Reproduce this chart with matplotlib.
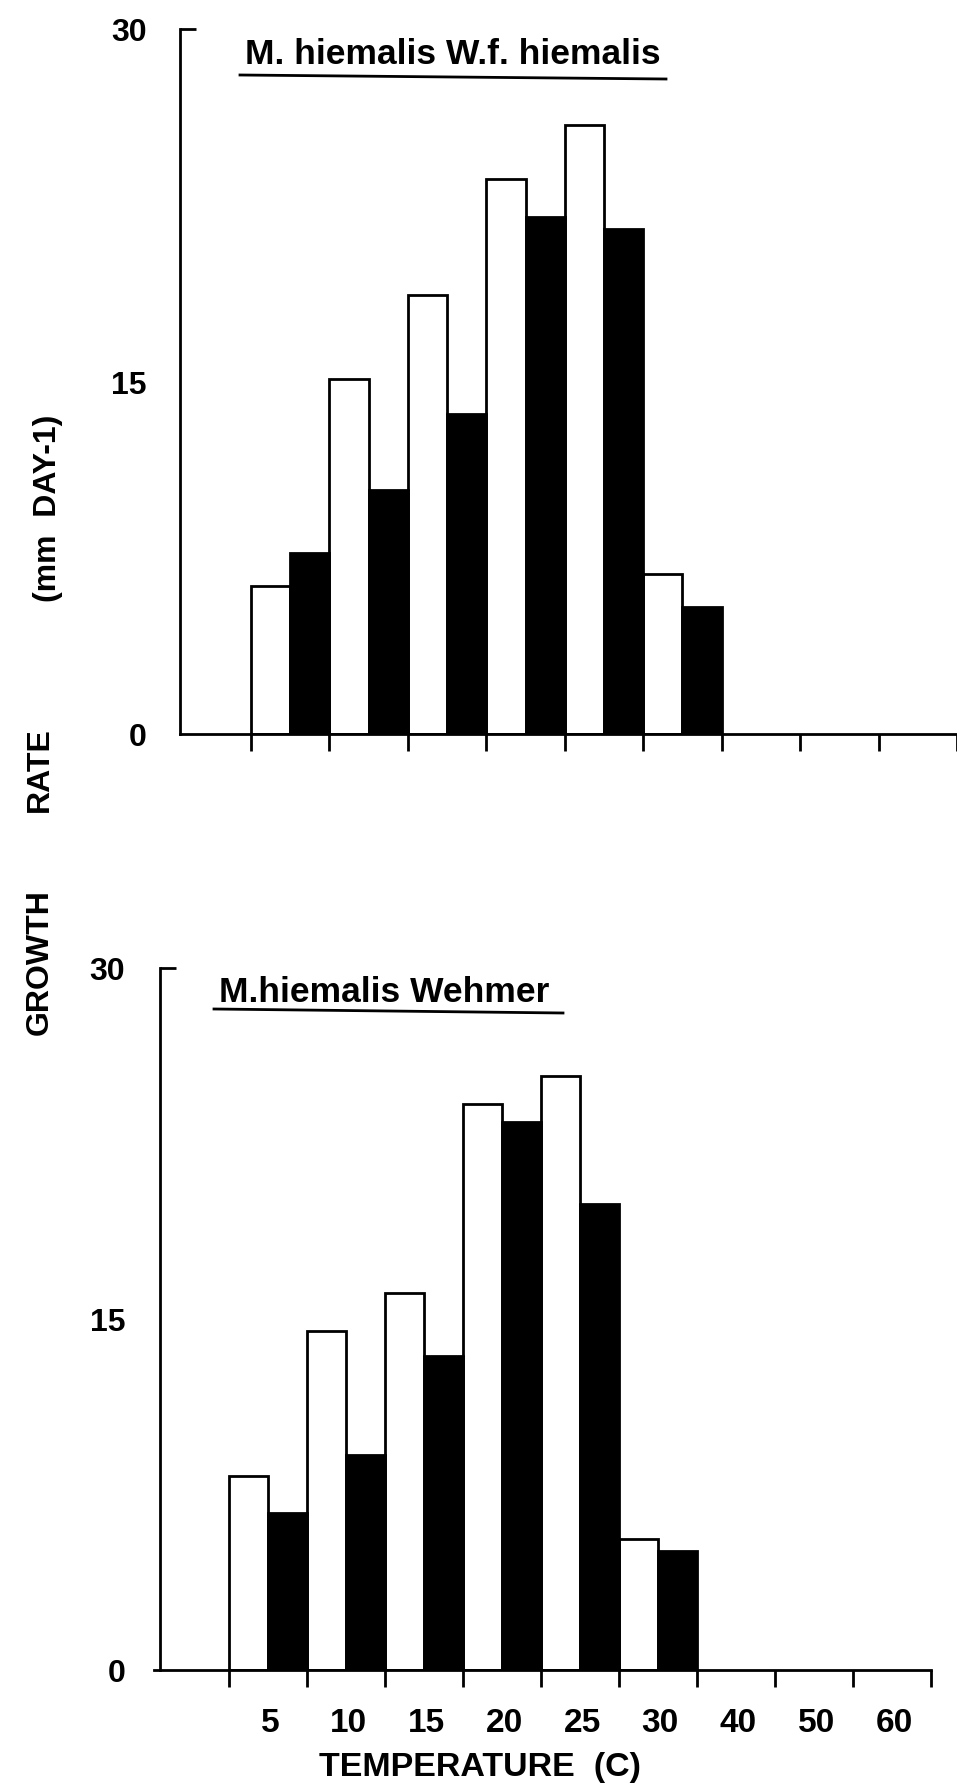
import matplotlib
matplotlib.use("Agg")
import matplotlib.pyplot as plt
from matplotlib import font_manager as fm
import numpy as np

# ---------------- data ----------------
temp_labels = ['5', '10', '15', '20', '25', '30', '40', '50', '60']
y_ticks = [0, 15, 30]
top_title = 'M. hiemalis W.f. hiemalis'
bottom_title = 'M.hiemalis Wehmer'
top_white = [6.3, 15.1, 18.7, 23.6, 25.9, 6.8]
top_black = [7.7, 10.4, 13.6, 22.0, 21.5, 5.4]
bottom_white = [8.3, 14.5, 16.1, 24.2, 25.4, 5.6]
bottom_black = [6.7, 9.2, 13.4, 23.4, 19.9, 5.1]


def pick(fams):
    for fam in fams:
        try:
            fm.findfont(fm.FontProperties(family=fam), fallback_to_default=False)
            return fam
        except Exception:
            pass
    return 'DejaVu Sans'

SANS = pick(['Liberation Sans', 'Arimo'])

W, H = 957, 1790
fig = plt.figure(figsize=(W / 100, H / 100), dpi=100)
LW = 2.0
FS_TICK = 23


def px_axes(x_left, x_right, y_top, y_bottom):
    return fig.add_axes([x_left / W, 1 - y_bottom / H, (x_right - x_left) / W, (y_bottom - y_top) / H])


def draw_panel(ax, white, black, xmin, spine_x, show_labels, ylabel_pad):
    n = len(white)
    pos = np.arange(n)
    ax.bar(pos, white, width=0.5, align='edge', color='white', edgecolor='black',
           linewidth=LW, zorder=2)
    ax.bar(pos + 0.5, black, width=0.5, align='edge', color='black', edgecolor='black',
           linewidth=LW, zorder=3)
    ax.set_xlim(xmin, 9)
    ax.set_ylim(0, 30)
    for s in ['top', 'right']:
        ax.spines[s].set_visible(False)
    ax.spines['left'].set_position(('data', spine_x))
    ax.spines['left'].set_linewidth(LW)
    ax.spines['bottom'].set_linewidth(LW)
    ax.spines['left'].set_zorder(4)
    ax.spines['bottom'].set_zorder(4)
    ax.set_xticks(np.arange(10))
    ax.set_xticklabels([])
    ax.tick_params(axis='x', which='major', direction='out', length=12, width=LW)
    if show_labels:
        ax.set_xticks(np.arange(len(temp_labels)) + 0.53, minor=True)
        ax.set_xticklabels(temp_labels, minor=True, fontfamily=SANS,
                           fontweight='bold', fontsize=FS_TICK + 1)
        ax.tick_params(axis='x', which='minor', length=0, pad=27)
    ax.set_yticks(y_ticks)
    ax.set_yticklabels([str(v) for v in y_ticks], fontfamily=SANS,
                       fontweight='bold', fontsize=FS_TICK)
    ax.tick_params(axis='y', which='major', length=0, pad=ylabel_pad)
    ax.set_yticks([15], minor=True)
    ax.tick_params(axis='y', which='minor', direction='out', length=9, width=LW)
    # small horizontal mark at the top of the axis
    ax.plot([spine_x, spine_x + 0.2], [30, 30], color='black', lw=LW,
            clip_on=False, solid_capstyle='butt', zorder=5)


# top panel: ticks 251..957
t0, dt = 251.0, (957.0 - 251.0) / 9
ax1 = px_axes(180, 957, 30, 735)
spine1 = (180 - t0) / dt
draw_panel(ax1, top_white, top_black, spine1, spine1, False, 24)

# bottom panel: ticks 229..931
b0, db = 229.0, (931.0 - 229.0) / 9
ax2 = px_axes(154, 931, 969, 1671)
xmin2 = (154 - b0) / db
spine2 = (160 - b0) / db
draw_panel(ax2, bottom_white, bottom_black, xmin2, spine2, True, 25)

# titles with underline
fig.text(245 / W, 1 - 64 / H, top_title, fontfamily=SANS, fontweight='bold',
         fontsize=25.5, ha='left', va='baseline')
fig.add_artist(plt.Line2D([240 / W, 666 / W], [1 - 76 / H, 1 - 80 / H],
                          color='black', lw=LW))
fig.text(219 / W, 1 - 1002 / H, bottom_title, fontfamily=SANS, fontweight='bold',
         fontsize=25.5, ha='left', va='baseline')
fig.add_artist(plt.Line2D([214 / W, 563 / W], [1 - 1010 / H, 1 - 1014 / H],
                          color='black', lw=LW))

# axis labels
fig.text(40 / W, 1 - 962 / H, 'GROWTH', rotation=90, fontfamily=SANS,
         fontweight='bold', fontsize=23, ha='center', va='center')
fig.text(40 / W, 1 - 770 / H, 'RATE', rotation=90, fontfamily=SANS,
         fontweight='bold', fontsize=23, ha='center', va='center')
fig.text(48 / W, 1 - 508 / H, '(mm  DAY-1)', rotation=90, fontfamily=SANS,
         fontweight='bold', fontsize=23, ha='center', va='center')
fig.text(480 / W, 1 - 1768 / H, 'TEMPERATURE  (C)', fontfamily=SANS,
         fontweight='bold', fontsize=24.5, ha='center', va='center')

fig.savefig('out.png', dpi=100, facecolor='white')
